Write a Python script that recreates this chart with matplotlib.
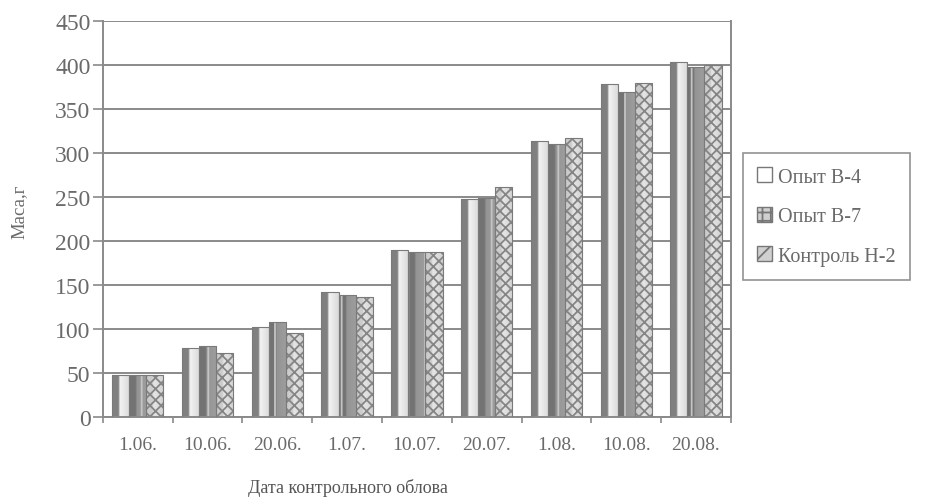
import numpy as np
import matplotlib.pyplot as plt
from matplotlib.ticker import FixedLocator, NullFormatter

plt.rcParams['font.family'] = ['Liberation Serif', 'DejaVu Serif']
plt.rcParams['hatch.linewidth'] = 1.3

# dates of the control catches
dates = ['1.06.', '10.06.', '20.06.', '1.07.', '10.07.', '20.07.', '1.08.', '10.08.', '20.08.']
# mass, g
opyt_b4 = [48, 78, 102, 142, 190, 248, 314, 378, 403]
opyt_b7 = [48, 81, 108, 139, 188, 249, 310, 369, 398]
kontrol_h2 = [48, 73, 95, 136, 188, 261, 317, 380, 400]

# name, values, shading (left / middle / right grey level), hatch, hatch colour
series = [
    ('Опыт В-4', opyt_b4, [0.50, 0.95, 0.85], None, None),
    ('Опыт В-7', opyt_b7, [0.45, 0.58, 0.62], '|', '#c4c4c4'),
    ('Контроль Н-2', kontrol_h2, [0.80, 0.90, 0.82], 'xxx', '#858585'),
]

text_col = '#6a6a6a'
grid_col = '#8a8a8a'

fig = plt.figure(figsize=(9.26, 5.02), dpi=100)
ax = fig.add_axes([0.1112, 0.1673, 0.678, 0.789])

x = np.arange(len(dates))
w = 0.245
handles = []
for i, (name, vals, shades, hatch, hcol) in enumerate(series):
    pos = x + (i - 1) * w
    bars = ax.bar(pos, vals, width=w, color='none', edgecolor='#7a7a7a',
                  linewidth=0.8, zorder=3)
    # cylinder-like shading inside every bar
    grad = np.interp(np.linspace(0, 1, 32), [0, 0.35, 0.45, 1],
                     [shades[0], shades[0], shades[1], shades[2]])
    img = np.tile(grad, (2, 1))
    for b in bars:
        x0, y0 = b.get_x(), b.get_y()
        im = ax.imshow(img, cmap='gray', vmin=0, vmax=1, aspect='auto',
                       extent=[x0, x0 + b.get_width(), y0, y0 + b.get_height()],
                       interpolation='bilinear', zorder=2)
        im.set_clip_path(b)
    if hatch:
        ax.bar(pos, vals, width=w, color='none', edgecolor=hcol, hatch=hatch,
               linewidth=0, zorder=2.5)
    hb = ax.bar(0, 0, width=0, color='white' if hatch is None else '#d0d0d0',
                edgecolor='#777777', hatch={'|': '++', 'xxx': '//'}.get(hatch, None),
                label=name)
    handles.append(hb)

ax.set_xlim(-0.5, len(dates) - 0.5)
ax.set_ylim(0, 450)
ax.set_yticks(np.arange(0, 451, 50))
ax.yaxis.grid(True, color=grid_col, linewidth=1.4, zorder=1)
ax.set_axisbelow(True)

ax.set_xticks(x)
ax.set_xticklabels(dates)
ax.xaxis.set_minor_locator(FixedLocator(np.arange(-0.5, len(dates), 1)))
ax.xaxis.set_minor_formatter(NullFormatter())
ax.tick_params(axis='x', which='major', length=0, pad=14, labelsize=14, labelcolor=text_col)
ax.tick_params(axis='x', which='minor', length=4, color=grid_col, width=1.2)
ax.tick_params(axis='y', length=7, color=grid_col, width=1.2, labelsize=17,
               labelcolor=text_col, pad=2)

for side in ['top', 'right', 'left', 'bottom']:
    ax.spines[side].set_color(grid_col)
    ax.spines[side].set_linewidth(1.4)
ax.spines['top'].set_visible(False)

fig.text(0.021, 0.578, 'Маса,г', rotation=90, ha='center', va='center',
         fontsize=13.5, color=text_col)
fig.text(0.376, 0.028, 'Дата контрольного облова', ha='center', va='center',
         fontsize=13, color='#555555')

leg = fig.legend(handles=handles, loc='upper left', bbox_to_anchor=(0.802, 0.693),
                 borderaxespad=0, frameon=True, fancybox=False, edgecolor='#777777',
                 fontsize=14.5, handlelength=0.75, handleheight=0.75, handletextpad=0.3,
                 labelspacing=1.0, borderpad=0.7, labelcolor=text_col)
leg.get_frame().set_linewidth(1.2)

fig.savefig('out.png', dpi=100)
